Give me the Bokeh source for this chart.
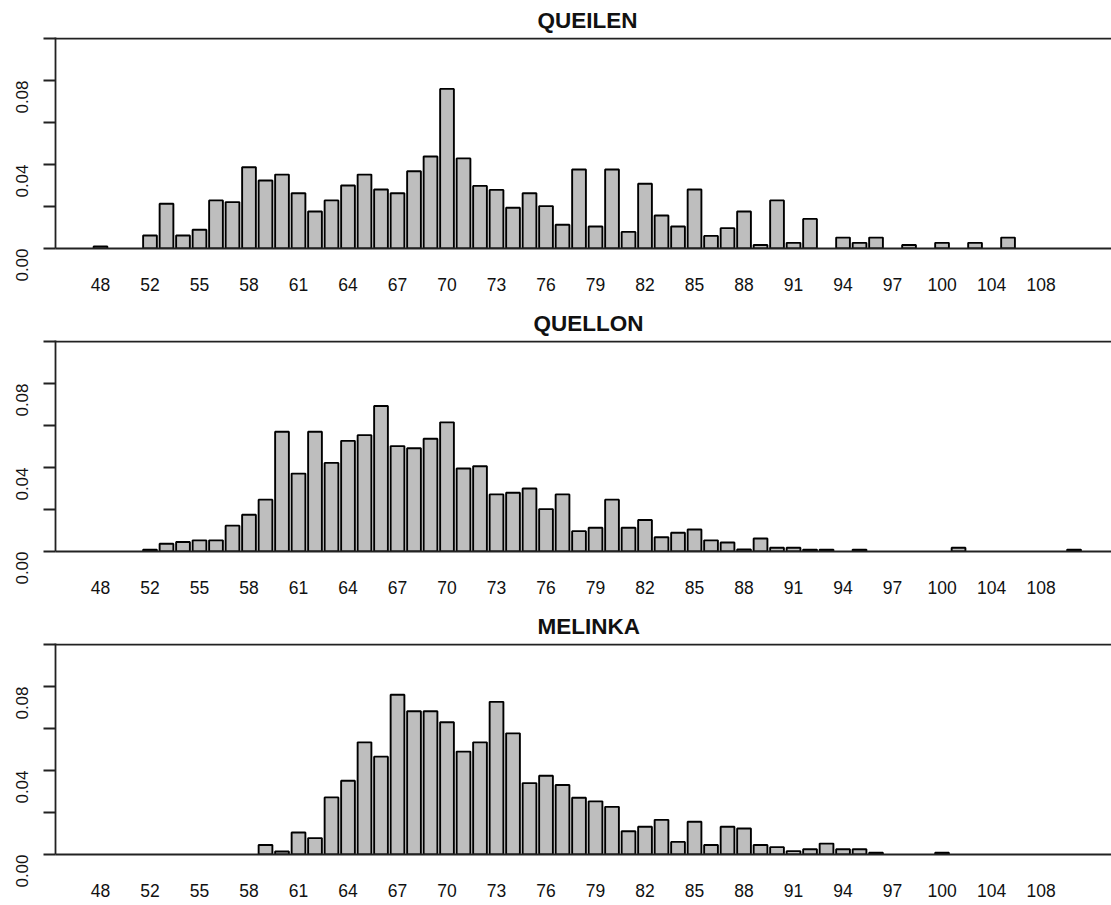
import math
from bokeh.plotting import figure
from bokeh.layouts import column
from bokeh.models import Range1d, FixedTicker, Span, PrintfTickFormatter
from bokeh.embed import file_html
from bokeh.resources import INLINE

# ---------------- data ----------------
lengths = [48, 50, 51, 52, 53, 54, 55, 56, 57, 58, 59, 60, 61, 62, 63, 64, 65, 66, 67,
           68, 69, 70, 71, 72, 73, 74, 75, 76, 77, 78, 79, 80, 81, 82, 83, 84, 85, 86,
           87, 88, 89, 90, 91, 92, 93, 94, 95, 96, 97, 98, 99, 100, 101, 102, 104, 105,
           106, 108, 110, 112]
tick_labels = [48, 52, 55, 58, 61, 64, 67, 70, 73, 76, 79, 82, 85, 88, 91, 94, 97, 100, 104, 108]
sites = ["QUEILEN", "QUELLON", "MELINKA"]

queilen = [0.0010, 0.0, 0.0, 0.0062, 0.0213, 0.0062, 0.0089, 0.0229, 0.0221, 0.0387,
           0.0324, 0.0352, 0.0263, 0.0176, 0.0229, 0.0300, 0.0352, 0.0281, 0.0263, 0.0368,
           0.0438, 0.0760, 0.0429, 0.0298, 0.0279, 0.0194, 0.0263, 0.0202, 0.0113, 0.0376,
           0.0105, 0.0376, 0.0079, 0.0308, 0.0157, 0.0105, 0.0281, 0.0060, 0.0097, 0.0176,
           0.0017, 0.0229, 0.0027, 0.0141, 0.0, 0.0052, 0.0027, 0.0052, 0.0, 0.0017,
           0.0, 0.0027, 0.0, 0.0027, 0.0, 0.0052, 0.0, 0.0, 0.0, 0.0]
quellon = [0.0, 0.0, 0.0, 0.0008, 0.0037, 0.0045, 0.0053, 0.0053, 0.0123, 0.0175,
           0.0247, 0.0570, 0.0371, 0.0570, 0.0422, 0.0527, 0.0554, 0.0693, 0.0502, 0.0492,
           0.0537, 0.0615, 0.0395, 0.0406, 0.0272, 0.0280, 0.0300, 0.0202, 0.0272, 0.0097,
           0.0113, 0.0247, 0.0113, 0.0150, 0.0068, 0.0089, 0.0105, 0.0053, 0.0043, 0.0010,
           0.0062, 0.0018, 0.0018, 0.0009, 0.0009, 0.0, 0.0009, 0.0, 0.0, 0.0,
           0.0, 0.0, 0.0018, 0.0, 0.0, 0.0, 0.0, 0.0, 0.0, 0.0009]
melinka = [0.0, 0.0, 0.0, 0.0, 0.0, 0.0, 0.0, 0.0, 0.0, 0.0,
           0.0045, 0.0014, 0.0105, 0.0078, 0.0272, 0.0351, 0.0534, 0.0466, 0.0761, 0.0682,
           0.0682, 0.0630, 0.0490, 0.0534, 0.0727, 0.0577, 0.0340, 0.0375, 0.0331, 0.0270,
           0.0253, 0.0227, 0.0111, 0.0132, 0.0165, 0.0060, 0.0156, 0.0045, 0.0132, 0.0124,
           0.0045, 0.0035, 0.0016, 0.0025, 0.0052, 0.0025, 0.0025, 0.0008, 0.0, 0.0,
           0.0, 0.0008, 0.0, 0.0, 0.0, 0.0, 0.0, 0.0, 0.0, 0.0]
series = [queilen, quellon, melinka]

# ---------------- styling ----------------
FONT = "Liberation Sans"
AX = "#222222"
positions = list(range(len(lengths)))
tick_pos = [lengths.index(t) for t in tick_labels]
overrides = {i: str(lengths[i]) for i in tick_pos}
title_offsets = {"QUEILEN": 482, "QUELLON": 478, "MELINKA": 482}


def panel(name, vals, bottom_border, standoff):
    p = figure(frame_width=1056, frame_height=211,
               x_range=Range1d(-2.727, 61.27), y_range=Range1d(0, 0.1 + 0.1 / 210),
               output_backend="svg", toolbar_location=None,
               min_border_left=55, min_border_right=0, min_border_top=37,
               min_border_bottom=bottom_border)
    p.outline_line_color = None
    p.grid.visible = False
    p.background_fill_color = "white"
    p.border_fill_color = "white"

    xs = [x for x, v in zip(positions, vals) if v > 0]
    tops = [v for v in vals if v > 0]
    p.vbar(x=xs, top=tops, bottom=0, width=1 / 1.2,
           fill_color="#bebebe", line_color="black", line_width=1.9)
    p.add_layout(Span(location=0.1, dimension="width", line_color=AX, line_width=1.8))

    xa = p.xaxis[0]
    xa.ticker = FixedTicker(ticks=tick_pos)
    xa.major_label_overrides = overrides
    xa.axis_line_color = AX
    xa.axis_line_width = 1.8
    xa.major_tick_line_color = None
    xa.minor_tick_line_color = None
    xa.major_tick_out = 0
    xa.major_tick_in = 0
    xa.major_label_standoff = standoff
    xa.major_label_text_font = FONT
    xa.major_label_text_font_size = "17.5px"
    xa.major_label_text_color = "#111111"

    ya = p.yaxis[0]
    ya.ticker = FixedTicker(ticks=[0, 0.04, 0.08], minor_ticks=[0.02, 0.06, 0.1])
    ya.formatter = PrintfTickFormatter(format="%.2f")
    ya.axis_line_color = AX
    ya.axis_line_width = 1.8
    ya.major_tick_line_color = AX
    ya.major_tick_line_width = 1.8
    ya.minor_tick_line_color = AX
    ya.minor_tick_line_width = 1.8
    ya.major_tick_out = 12
    ya.major_tick_in = 0
    ya.minor_tick_out = 12
    ya.minor_tick_in = 0
    ya.major_label_orientation = math.pi / 2
    ya.major_label_standoff = 22
    ya.major_label_text_font = FONT
    ya.major_label_text_font_size = "17px"
    ya.major_label_text_color = "#111111"

    p.title.text = name
    p.title.text_font = FONT
    p.title.text_font_style = "bold"
    p.title.text_font_size = "22.5px"
    p.title.text_color = "#111111"
    p.title.align = "left"
    p.title.offset = title_offsets[name]
    p.title.standoff = 10
    return p


p1 = panel(sites[0], series[0], 55, 29)
p2 = panel(sites[1], series[1], 55, 29)
p3 = panel(sites[2], series[2], 51, 29)

layout = column(p1, p2, p3, spacing=0)
open("out.html", "w").write(file_html(layout, INLINE))
